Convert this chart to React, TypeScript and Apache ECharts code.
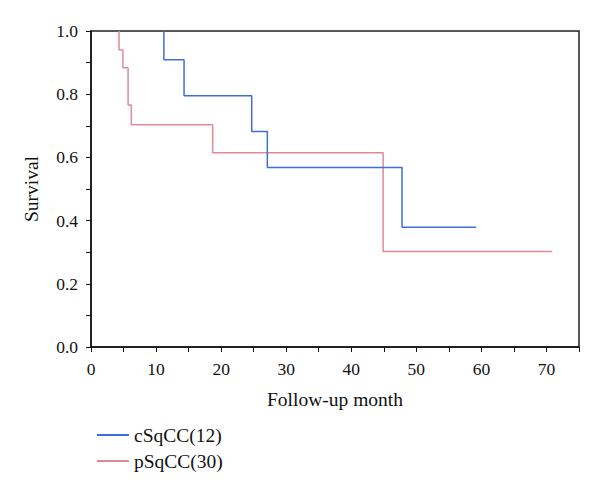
import React, { useEffect, useRef } from "react";
import * as echarts from "echarts";

const cTimes = [11.2, 14.3, 24.7, 27.1, 47.8, 59.2];
const cSurv = [0.909, 0.795, 0.682, 0.568, 0.379, 0.379];
const pTimes = [4.3, 4.9, 5.7, 6.2, 18.7, 44.9, 70.9];
const pSurv = [0.94, 0.884, 0.766, 0.703, 0.615, 0.302, 0.302];
const startSurv = 1.0;
const seriesNames = ["cSqCC(12)", "pSqCC(30)"];
const xTitle = "Follow-up month";
const yTitle = "Survival";

const FONT = "Liberation Serif";

export default function App() {
  const ref = useRef<HTMLDivElement>(null);
  useEffect(() => {
    if (!ref.current) return;
    const chart = echarts.init(ref.current, null, { renderer: "svg" });
    const pair = (t: number[], s: number[]) => [[t[0], startSurv], ...t.map((x, i) => [x, s[i]])];
    chart.setOption({
      animation: false,
      backgroundColor: "#ffffff",
      textStyle: { fontFamily: FONT },
      grid: {
        left: 91,
        top: 31,
        right: 21,
        bottom: 144,
        show: true,
        borderColor: "#222",
        borderWidth: 1.5,
      },
      legend: {
        orient: "vertical",
        left: 92,
        top: 420,
        itemWidth: 32,
        itemHeight: 2,
        itemGap: 6,
        icon: "rect",
        textStyle: { fontFamily: FONT, fontSize: 19.5, color: "#111" },
        data: seriesNames,
      },
      xAxis: {
        type: "value",
        min: 0,
        max: 75,
        interval: 5,
        name: xTitle,
        nameLocation: "middle",
        nameGap: 42,
        nameTextStyle: { fontFamily: FONT, fontSize: 19.5, color: "#111" },
        axisLine: { show: true, lineStyle: { color: "#111", width: 1.5 } },
        axisTick: { show: true, length: 5, lineStyle: { color: "#111" } },
        axisLabel: {
          margin: 13,
          fontFamily: FONT,
          fontSize: 17.5,
          color: "#111",
          formatter: (v: number) => (Math.round(v) % 10 === 0 ? String(Math.round(v)) : ""),
        },
        splitLine: { show: false },
      },
      yAxis: {
        type: "value",
        min: 0,
        max: 1,
        interval: 0.1,
        name: yTitle,
        nameLocation: "middle",
        nameGap: 50,
        nameTextStyle: { fontFamily: FONT, fontSize: 19.5, color: "#111" },
        axisLine: { show: true, lineStyle: { color: "#111", width: 1.5 } },
        axisTick: { show: true, length: 5, lineStyle: { color: "#111" } },
        axisLabel: {
          margin: 13,
          fontFamily: FONT,
          fontSize: 17.5,
          color: "#111",
          formatter: (v: number) => {
            const k = Math.round(v * 10);
            return k % 2 === 0 ? (k / 10).toFixed(1) : "";
          },
        },
        splitLine: { show: false },
      },
      series: [
        {
          name: seriesNames[0],
          type: "line",
          step: "end",
          symbol: "none",
          data: pair(cTimes, cSurv),
          lineStyle: { color: "#3f6ed8", width: 1.5 },
          itemStyle: { color: "#3f6ed8" },
          z: 3,
        },
        {
          name: seriesNames[1],
          type: "line",
          step: "end",
          symbol: "none",
          data: pair(pTimes, pSurv),
          lineStyle: { color: "#e08a97", width: 1.5 },
          itemStyle: { color: "#e08a97" },
          z: 2,
        },
      ],
    });
    return () => chart.dispose();
  }, []);
  return <div ref={ref} style={{ width: 600, height: 491, position: "absolute", left: 0, top: 0 }} />;
}
